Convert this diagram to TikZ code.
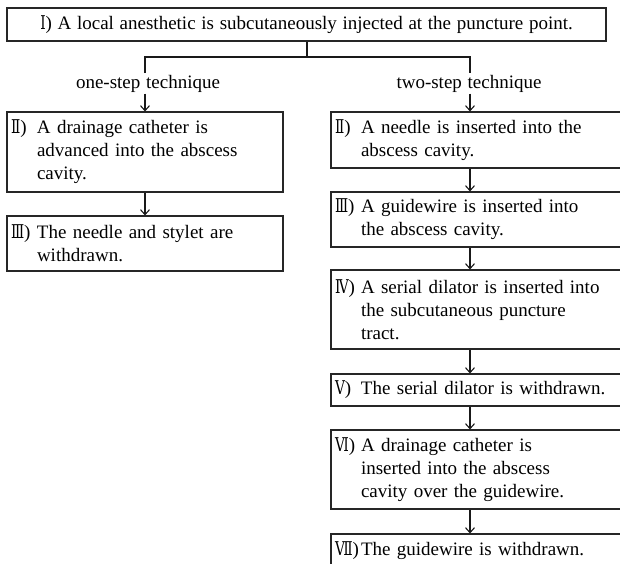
\documentclass[tikz,border=0pt]{standalone}
\usepackage{fontspec}
\usepackage{graphicx}
\setmainfont{Liberation Serif}
\newfontfamily\numfont{DejaVu Serif}
\usetikzlibrary{arrows.meta}
\newcommand{\myfont}{\fontsize{19}{23}\selectfont\spaceskip 0.3em plus 0.1em minus 0.05em\relax}
\newcommand{\rn}[1]{\scalebox{0.72}[1]{\numfont #1}}
\newcommand{\rnum}[1]{\makebox[26pt][l]{\rn{#1})}}
\newcommand{\ind}{\hspace*{26pt}}
\begin{document}
\begin{tikzpicture}[x=1pt,y=-1pt,
  every node/.style={font=\myfont, text=black},
  box/.style={draw=black!85, line width=1.1pt, rectangle, inner xsep=4pt, inner ysep=0pt, align=left},
  topbox/.style={draw=black!85, line width=1.1pt, rectangle, inner sep=0pt, minimum width=599pt, minimum height=33pt},
  lbl/.style={inner xsep=0pt, inner ysep=1.5pt, anchor=base},
  conn/.style={draw=black!90, line width=1.1pt},
  arr/.style={conn, -{Straight Barb[length=5pt,width=9pt]}}]
\useasboundingbox (0,0) rectangle (620,563);
% top box
\node[topbox] (top) at (306.5,24.5) {\rn{Ⅰ}) A local anesthetic is subcutaneously injected at the puncture point.};
% labels
\node[lbl] (lone) at (148,88) {one-step technique};
\node[lbl] (ltwo) at (469,88) {two-step technique};
\coordinate (xl) at (145,57);
\coordinate (xr) at (470,57);
% left boxes
\node[box, text width=268pt, minimum height=80pt] (l2) at (145,152)
  {\rnum{Ⅱ}A drainage catheter is\\ \ind advanced into the abscess\\ \ind cavity.};
\node[box, text width=268pt, minimum height=55pt] (l3) at (145,243.5)
  {\rnum{Ⅲ}The needle and stylet are\\ \ind withdrawn.};
% right boxes
\node[box, text width=284pt, minimum height=56pt] (r2) at (477,140)
  {\rnum{Ⅱ}A needle is inserted into the\\ \ind abscess cavity.};
\node[box, text width=284pt, minimum height=55pt] (r3) at (477,219.5)
  {\rnum{Ⅲ}A guidewire is inserted into\\ \ind the abscess cavity.};
\node[box, text width=284pt, minimum height=79pt] (r4) at (477,309.5)
  {\rnum{Ⅳ}A serial dilator is inserted into\\ \ind the subcutaneous puncture\\ \ind tract.};
\node[box, text width=284pt, minimum height=32pt] (r5) at (477,390)
  {\rnum{Ⅴ}The serial dilator is withdrawn.};
\node[box, text width=284pt, minimum height=79pt] (r6) at (477,469.5)
  {\rnum{Ⅵ}A drainage catheter is\\ \ind inserted into the abscess\\ \ind cavity over the guidewire.};
\node[box, text width=284pt, minimum height=33pt] (r7) at (477,550.5)
  {\rnum{Ⅶ}The guidewire is withdrawn.};
% connectors
\draw[conn] (top.south -| 307,0) -- (307,57);
\draw[conn] (lone.north -| xl) -- (xl) -- (xr) -- (ltwo.north -| xr);
\draw[arr] (lone.south -| xl) -- (l2.north -| xl);
\draw[arr] (ltwo.south -| xr) -- (r2.north -| xr);
\draw[arr] (l2.south -| xl) -- (l3.north -| xl);
\draw[arr] (r2.south -| xr) -- (r3.north -| xr);
\draw[arr] (r3.south -| xr) -- (r4.north -| xr);
\draw[arr] (r4.south -| xr) -- (r5.north -| xr);
\draw[arr] (r5.south -| xr) -- (r6.north -| xr);
\draw[arr] (r6.south -| xr) -- (r7.north -| xr);
\end{tikzpicture}
\end{document}
